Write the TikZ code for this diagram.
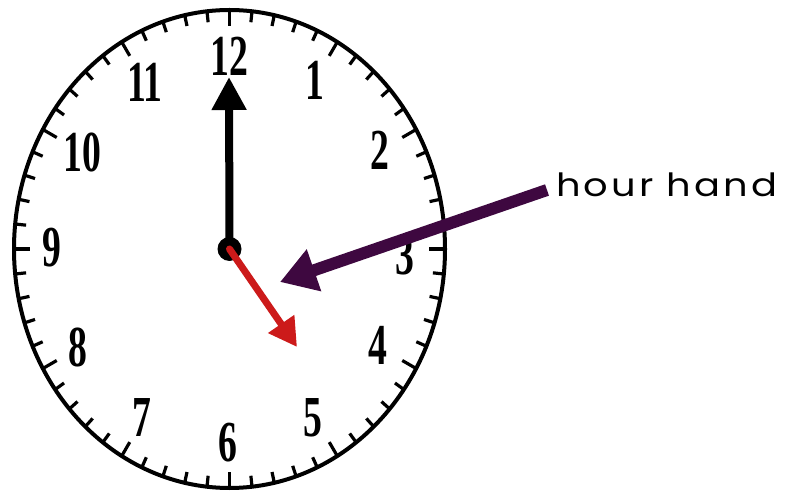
\documentclass[tikz,border=0pt]{standalone}
\usepackage{fontspec}
\setmainfont{Liberation Serif}
\newfontfamily\labelfont[LetterSpace=8]{Poppins}
\usetikzlibrary{arrows.meta}
\definecolor{handred}{RGB}{204,26,26}
\definecolor{pointer}{RGB}{62,8,64}
\begin{document}
\begin{tikzpicture}[x=1pt,y=-1pt,
  numstyle/.style={font=\fontsize{58}{58}\selectfont\bfseries, inner sep=0pt, anchor=center},
  tickmark/.style={line width=3.2pt},
  labelstyle/.style={font=\labelfont\fontsize{32}{32}\selectfont, anchor=base west, inner sep=0pt}
]
\useasboundingbox (0,0) rectangle (787,494);
\fill[white] (0,0) rectangle (787,494);
\def\cx{229.5}\def\cy{249}\def\rx{215.5}\def\ry{239}
\coordinate (c) at (\cx,\cy);
\draw[line width=4pt, fill=white] (c) ellipse [x radius=215.5pt, y radius=239pt];
\foreach \i in {0,...,59}{
  \pgfmathsetmacro\a{90-6*\i}
  \pgfmathsetmacro\L{mod(\i,5)==0 ? 16 : 11}
  \draw[tickmark] ({\cx+\rx*cos(\a)},{\cy-\ry*sin(\a)}) -- ({\cx+(\rx-\L)*cos(\a)},{\cy-(\ry-\L)*sin(\a)});
}
\node[numstyle] (n12) at (229,56) {\scalebox{0.65}[1]{12}};
\node[numstyle] (n1) at (315,80) {\scalebox{0.65}[1]{1}};
\node[numstyle] (n2) at (380,150) {\scalebox{0.65}[1]{2}};
\node[numstyle] (n3) at (405,256) {\scalebox{0.65}[1]{3}};
\node[numstyle] (n4) at (378,345) {\scalebox{0.65}[1]{4}};
\node[numstyle] (n5) at (313,418) {\scalebox{0.65}[1]{5}};
\node[numstyle] (n6) at (228,443) {\scalebox{0.65}[1]{6}};
\node[numstyle] (n7) at (142,418) {\scalebox{0.65}[1]{7}};
\node[numstyle] (n8) at (78,347) {\scalebox{0.65}[1]{8}};
\node[numstyle] (n9) at (52,248) {\scalebox{0.65}[1]{9}};
\node[numstyle] (n10) at (82,152) {\scalebox{0.65}[1]{10}};
\node[numstyle] (n11) at (145,82) {\scalebox{0.65}[1]{11}};
\coordinate (mtip) at (229,77);
\draw[line width=8pt, -{Triangle[length=33pt,width=33pt]}] (c) -- (mtip);
\fill (c) circle[radius=12pt];
\coordinate (htip) at (297,347);
\draw[handred, line width=7pt, line cap=round, -{Triangle[length=28pt,width=30pt]}] (c) -- (htip);
\coordinate (ptail) at (547,190);
\coordinate (ptip) at (280,282);
\draw[pointer, line width=12pt, -{Triangle[length=36pt,width=42pt]}] (ptail) -- (ptip);
\node[labelstyle] (lbl) at (556,197) {\scalebox{1.2}[1]{hour hand}};
\end{tikzpicture}
\end{document}
